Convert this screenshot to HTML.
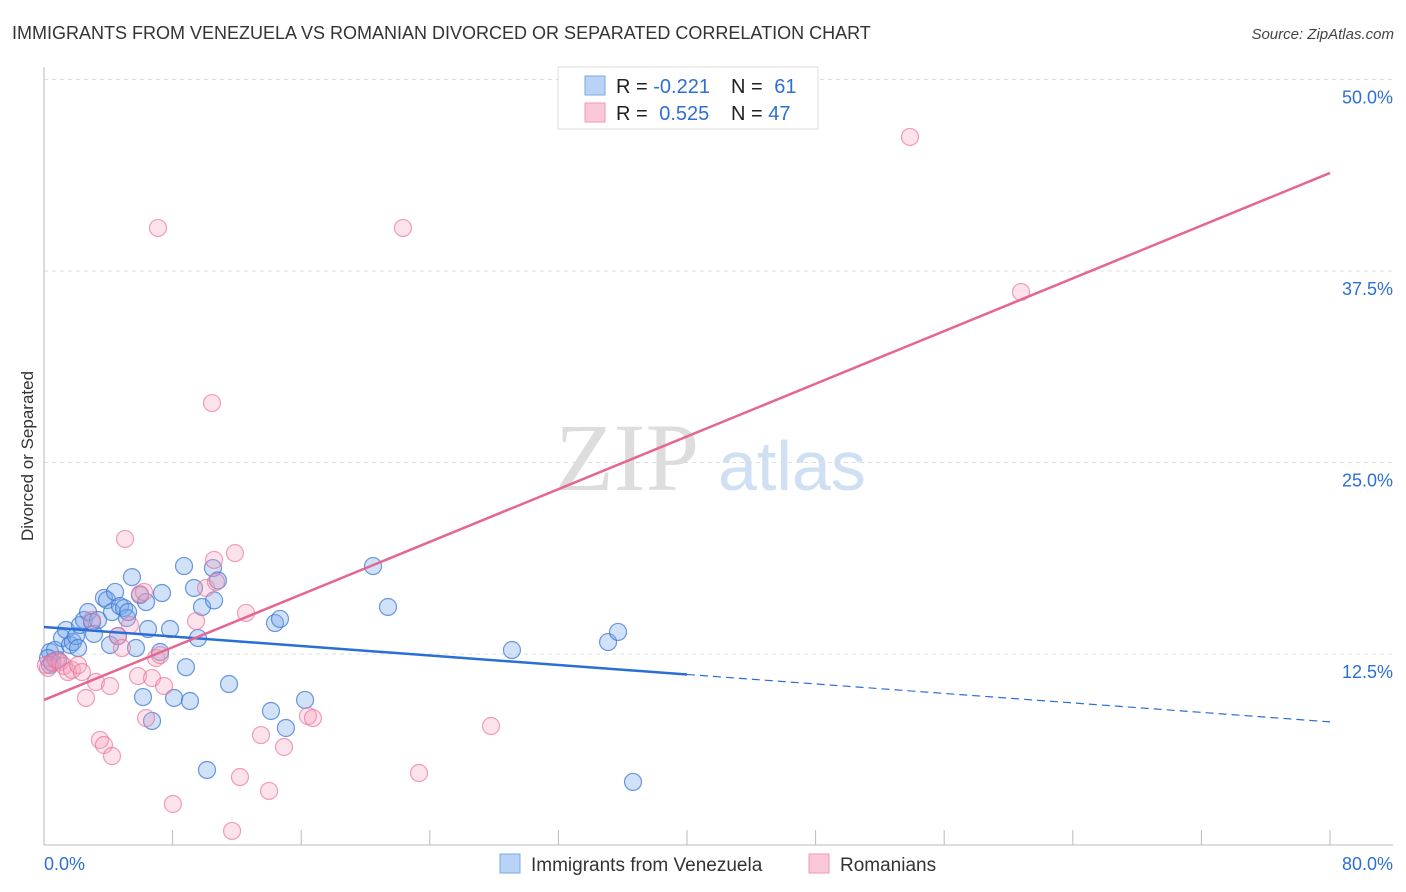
<!DOCTYPE html>
<html><head><meta charset="utf-8"><style>
body{margin:0;background:#fff;font-family:"Liberation Sans",sans-serif}
svg{display:block}
</style></head><body>
<svg id="chart" width="1406" height="892" xmlns="http://www.w3.org/2000/svg">
<text x="12" y="39" font-size="18" fill="#333">IMMIGRANTS FROM VENEZUELA VS ROMANIAN DIVORCED OR SEPARATED CORRELATION CHART</text>
<text x="1394" y="39" font-size="15" fill="#444" font-style="italic" text-anchor="end">Source: ZipAtlas.com</text>
<text x="33" y="456" font-size="17" fill="#333" text-anchor="middle" transform="rotate(-90 33 456)">Divorced or Separated</text>
<text x="555" y="490" font-size="96" fill="#ddd" font-family="Liberation Serif,serif">ZIP</text>
<text x="718" y="490" font-size="70" fill="#cfe0f4">atlas</text>
<g id="grid"></g><g id="pts"></g><g id="lines"></g>
<g>
<rect x="558" y="67" width="260" height="62" fill="#fff" stroke="#ddd"/>
<rect x="585" y="76" width="20" height="19" fill="#b8d3f5" stroke="#7aa9e6"/>
<rect x="585" y="103" width="20" height="19" fill="#fbc8d8" stroke="#ee9ab6"/>
<text x="616" y="93" font-size="20" fill="#222">R = <tspan fill="#2d6fd4">-0.221</tspan></text>
<text x="731" y="93" font-size="20" fill="#222">N = <tspan fill="#2d6fd4" dx="6">61</tspan></text>
<text x="616" y="120" font-size="20" fill="#222">R = <tspan fill="#2d6fd4" dx="6">0.525</tspan></text>
<text x="731" y="120" font-size="20" fill="#222">N = <tspan fill="#2d6fd4">47</tspan></text>
</g>
<g>
<rect x="500" y="854" width="20" height="19" fill="#b8d3f5" stroke="#7aa9e6"/>
<text x="531" y="871" font-size="19" fill="#333">Immigrants from Venezuela</text>
<rect x="809" y="854" width="20" height="19" fill="#fbc8d8" stroke="#ee9ab6"/>
<text x="840" y="871" font-size="19" fill="#333">Romanians</text>
</g>
</svg>
<script>
const yTicks=[12.5,25,37.5,50];
const yTickLabels=["12.5%","25.0%","37.5%","50.0%"];
const xTickLabels=["0.0%","80.0%"];
const blueX=[0.37,0.5,0.68,0.87,1.12,1.37,1.62,1.8,1.99,2.12,2.24,2.49,2.74,2.99,3.11,3.36,3.73,3.92,4.11,4.23,4.42,4.6,4.73,4.98,5.16,5.23,5.47,5.72,5.97,6.16,6.35,6.47,6.72,7.22,7.34,7.84,8.09,8.71,8.83,9.08,9.33,9.58,9.83,10.14,10.51,10.58,10.82,11.51,14.12,14.37,14.68,15.05,16.24,20.47,21.4,29.11,35.09,35.71,36.64,0.37,0.25];
const blueY=[12.63,11.98,12.76,12.11,13.54,14.07,13.09,13.28,13.67,12.89,14.39,14.72,15.24,14.59,13.81,14.72,16.16,16.02,13.09,15.24,16.55,13.67,15.63,15.5,14.85,15.24,17.52,12.89,16.35,9.69,15.89,14.13,8.13,12.63,16.48,14.13,9.63,18.24,11.64,9.43,16.81,13.54,15.57,4.93,18.11,16,17.3,10.54,8.78,14.52,14.79,7.67,9.5,18.24,15.57,12.76,13.28,13.94,4.15,11.78,12.24];
const pinkX=[0.12,0.25,0.5,0.75,1,1.24,1.49,1.74,2.12,2.36,2.61,2.99,3.23,3.48,3.73,4.11,4.23,4.6,4.85,5.04,5.35,5.85,5.97,6.22,6.35,6.72,6.97,7.09,7.22,7.47,8.02,9.46,10.08,10.45,10.58,10.7,11.7,11.88,12.19,12.57,13.5,14,14.93,16.42,16.73,22.33,23.33,27.81,53.87,60.78];
const pinkY=[11.78,11.59,11.91,12.11,11.98,11.72,11.32,11.46,11.78,11.32,9.63,14.72,10.67,6.89,6.56,10.41,5.84,13.67,12.89,20.01,14.39,11.06,16.42,16.55,8.32,10.93,12.24,40.31,12.43,10.41,2.71,14.65,16.81,28.88,18.64,17.2,0.95,19.09,4.47,15.18,7.21,3.56,6.43,8.45,8.32,40.31,4.73,7.8,46.25,36.13];
const blueLine=[14.26,8.07];
const pinkLine=[9.5,43.9];
const NS="http://www.w3.org/2000/svg";
const X0=44,X1=1330,Y0=845.5,YS=15.32;
const sx=v=>X0+(X1-X0)*v/80, sy=v=>Y0-v*YS;
function mk(t,a,p){const e=document.createElementNS(NS,t);for(const k in a)e.setAttribute(k,a[k]);p.appendChild(e);return e;}
const g=document.getElementById('grid');
yTicks.forEach((t,i)=>{
 const l=mk('line',{x1:X0,x2:1393,y1:sy(t),y2:sy(t),stroke:'#ddd','stroke-dasharray':'4,4'},g);
 
 
 const tx=mk('text',{x:1393,y:sy(t)+24,'font-size':18,fill:'#2d6fd4','text-anchor':'end'},g);
 tx.textContent=yTickLabels[i];
 
 
});
const ax=mk('line',{x1:X0,x2:X0,y1:67,y2:845,stroke:'#bbb'},g);


const bx=mk('line',{x1:X0,x2:1393,y1:845,y2:845,stroke:'#bbb'},g);


for(let i=0;i<=10;i++){
 const t=mk('line',{x1:sx(i*8),x2:sx(i*8),y1:830,y2:845,stroke:'#bbb'},g);
 
 
}
[[0,'start',44],[80,'end',1393]].forEach((d,i)=>{
 const t=mk('text',{x:d[2],y:870,'font-size':18,fill:'#2d6fd4','text-anchor':d[1]},g);
 t.textContent=xTickLabels[i];
 
 
});
const p=document.getElementById('pts');
function pts(xs,ys,fill,stroke,name){xs.forEach((x,i)=>{
 const c=mk('circle',{cx:sx(x),cy:sy(ys[i]),r:8.5,fill:fill,stroke:stroke,'stroke-width':1.2},p);
 
 
});}
pts(blueX,blueY,'rgba(120,170,235,0.35)','rgba(60,120,210,0.75)','venezuela-point');
pts(pinkX,pinkY,'rgba(245,160,190,0.3)','rgba(232,110,150,0.65)','romanian-point');
const L=document.getElementById('lines');
const bm=(blueLine[1]-blueLine[0])/80, bAt=x=>blueLine[0]+bm*x;
const l1=mk('line',{x1:sx(0),y1:sy(bAt(0)),x2:sx(40),y2:sy(bAt(40)),stroke:'#2a6fd6','stroke-width':2.5},L);


const l2=mk('line',{x1:sx(40),y1:sy(bAt(40)),x2:sx(80),y2:sy(bAt(80)),stroke:'#2a6fd6','stroke-width':1.2,'stroke-dasharray':'8,5'},L);


const l3=mk('line',{x1:sx(0),y1:sy(pinkLine[0]),x2:sx(80),y2:sy(pinkLine[1]),stroke:'#e5668f','stroke-width':2.5},L);


</script>
</body></html>
